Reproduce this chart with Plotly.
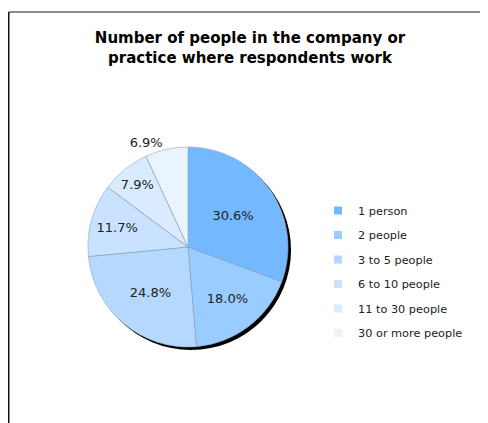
import plotly.graph_objects as go

categories = ["1 person", "2 people", "3 to 5 people", "6 to 10 people",
              "11 to 30 people", "30 or more people"]
shares = [30.6, 18.0, 24.8, 11.7, 7.9, 6.9]
colors = ["#74B9FF", "#99CCFF", "#B5D8FF", "#C8E2FF", "#DAEBFF", "#EAF4FF"]
label_pos = ["inside", "inside", "inside", "inside", "inside", "outside"]
title_text = "Number of people in the company or<br>practice where respondents work"

W, H = 488, 423
off = 8  # page body margin
cx, cy, r = 188 - off, 247 - off, 100
sh = 3

fig = go.Figure()

# drop shadow
fig.add_trace(go.Pie(
    values=[sum(shares)], labels=["shadow"], marker=dict(colors=["#000000"]),
    textinfo="none", hoverinfo="skip", showlegend=False, sort=False,
    domain=dict(x=[(cx - r + sh) / W, (cx + r + sh) / W],
                y=[(H - cy - r - sh) / H, (H - cy + r - sh) / H]),
))

fig.add_trace(go.Pie(
    labels=categories, values=shares, sort=False, direction="clockwise",
    rotation=0,
    marker=dict(colors=colors, line=dict(color="#8FA6C0", width=0.6)),
    texttemplate="%{value:.1f}%", textposition=label_pos,
    textfont=dict(family="DejaVu Sans", size=13, color="#222222"),
    insidetextorientation="horizontal",
    showlegend=False,
    domain=dict(x=[(cx - r) / W, (cx + r) / W],
                y=[(H - cy - r) / H, (H - cy + r) / H]),
))

# legend entries
for i, (c, col) in enumerate(zip(categories, colors)):
    fig.add_trace(go.Scatter(
        x=[None], y=[None], mode="markers", name=c, legendgroup=f"g{i}",
        marker=dict(symbol="square", size=8, color=col),
    ))

fig.update_layout(
    width=W, height=H,
    margin=dict(l=0, r=0, t=0, b=0),
    paper_bgcolor="white", plot_bgcolor="white",
    font=dict(family="DejaVu Sans", color="#222222"),
    xaxis=dict(visible=False), yaxis=dict(visible=False),
    title=dict(text="<b>" + title_text + "</b>", x=(250 - off) / W, xanchor="center",
               y=1 - (43 - off) / H, yanchor="middle",
               font=dict(family="DejaVu Sans", size=15, color="#000000")),
    legend=dict(x=(318 - off) / W, xanchor="left", y=1 - (196 - off) / H, yanchor="top",
                traceorder="grouped", tracegroupgap=5.5,
                font=dict(family="DejaVu Sans", size=11.3, color="#222222"),
                bgcolor="rgba(0,0,0,0)"),
    shapes=[
        dict(type="line", xref="paper", yref="paper",
             x0=0.75 / W, x1=1, y0=1 - (12 - off) / H, y1=1 - (12 - off) / H,
             line=dict(color="#666666", width=1.5)),
        dict(type="line", xref="paper", yref="paper",
             x0=0.75 / W, x1=0.75 / W, y0=0, y1=1 - (12 - off) / H,
             line=dict(color="#111111", width=1.5)),
    ],
)

fig.write_html("out.html")
